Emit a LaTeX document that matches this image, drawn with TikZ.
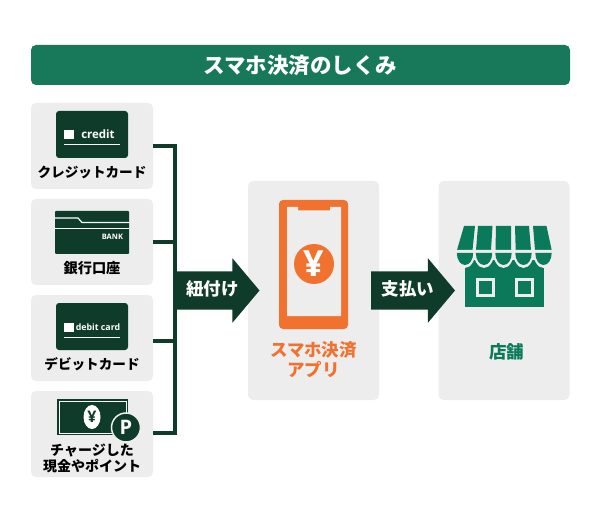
\documentclass[tikz,border=0pt]{standalone}
\usepackage{fontspec}
\usetikzlibrary{positioning, shapes.arrows, shapes.geometric}
\newfontfamily\cjk{Noto Sans CJK JP}
\newfontfamily\latin{Open Sans}
\definecolor{darkgreen}{HTML}{0F3B2A}
\definecolor{titlegreen}{HTML}{17785A}
\definecolor{shopgreen}{HTML}{0B7A5B}
\definecolor{apporange}{HTML}{F1712F}
\definecolor{panelgray}{HTML}{EDEDED}
\tikzset{
x=1pt, y=-1pt, % picture is in reference pixels
every node/.style={inner sep=0pt, outer sep=0pt, font=\cjk\bfseries},
panel/.style={fill=panelgray, rounded corners=5pt},
source/.style={panel, minimum width=122pt, minimum height=86pt},
caption/.style={font=\cjk\bfseries\fontsize{13.6}{16}\selectfont, align=center, text=black},
cardface/.style={fill=darkgreen, rounded corners=3pt, minimum width=72pt, minimum height=47pt},
flow/.style={single arrow, fill=darkgreen, text=white, anchor=tail,
  inner ysep=11pt, text height=13pt, text depth=3pt,
  minimum height=84pt, minimum width=64pt, single arrow head extend=13pt,
  single arrow head indent=0pt, single arrow tip angle=100,
  execute at begin node=\hspace*{6pt},
  font=\cjk\bfseries\fontsize{17.5}{20}\selectfont},
bus/.style={draw=darkgreen, line width=3.5pt},
}
\begin{document}
\begin{tikzpicture}
    \useasboundingbox (0,0) rectangle (600,513);
    % title
    \node[rounded corners=5pt, fill=titlegreen,
      minimum width=539pt, minimum height=40pt, text=white,
      font=\cjk\bfseries\fontsize{21.5}{24}\selectfont] (title) at (300.5,65) {スマホ決済のしくみ};
    % left column
    \node[source] (credit) at (92,146) {};
    \node[source, below=10pt of credit] (bank) {};
    \node[source, below=10pt of bank] (debit) {};
    \node[source, below=10pt of debit] (charge) {};
    \node[panel, minimum width=131pt, minimum height=219pt] (app) at (313.5,290.5) {};
    \node[panel, minimum width=131pt, minimum height=219pt] (shop) at (504,290.5) {};
    % connectors
    \coordinate (bustop) at (175,146);
    \coordinate (busbot) at (175,433);
    \draw[bus] (credit.east) -- (bustop) -- (busbot) -- (busbot -| charge.east);
    \draw[bus] (bank.east) -- (bank.east -| bustop);
    \draw[bus] ([yshift=-3pt]debit.east) -- ([yshift=-3pt]debit.east -| bustop);
    \node[flow] (link) at (175.5,290.5) {紐付け};
    \node[flow] (pay) at (371,290.5) {支払い};
    % credit card
    \node[cardface] (creditcard) at (92,134.5) {};
    \fill[white] (64,130) rectangle (74,139);
    \node[text=white, font=\latin\bfseries\fontsize{11.5}{12}\selectfont] (creditname) at (98,134) {credit};
    \draw[white, line width=1pt] (64,145) -- (120,145);
    \node[caption] (creditlabel) at (92,172.5) {クレジットカード};
    % bank book
    \fill[darkgreen, rounded corners=1pt] (55,211) rectangle (129,254);
    \draw[white, line width=1.2pt] (55,218) -- (78,218) -- (82,222.5) -- (129,222.5);
    \draw[white, line width=1.2pt] (55,228.5) -- (129,228.5);
    \node[text=white, font=\latin\bfseries\fontsize{7.5}{9}\selectfont, anchor=east] (bankname) at (123,237) {BANK};
    \node[caption, font=\cjk\bfseries\fontsize{14.2}{16}\selectfont] (banklabel) at (92,268.5) {銀行口座};
    % debit card
    \node[cardface] (debitcard) at (92,326.5) {};
    \fill[white] (64,323) rectangle (74,332);
    \node[text=white, font=\latin\bfseries\fontsize{8.8}{10}\selectfont] (debitname) at (98,327) {debit card};
    \draw[white, line width=1pt] (64,337) -- (120,337);
    \node[caption] (debitlabel) at (92,364.5) {デビットカード};
    % charged money
    \fill[darkgreen] (57,399) rectangle (128,435);
    \draw[white, line width=.6pt] (59,401) rectangle (126,433);
    \node[ellipse, fill=white, minimum width=17pt, minimum height=24pt] (bill) at (92,417) {};
    \node[text=darkgreen, font=\latin\bfseries\fontsize{16}{16}\selectfont] (billyen) at (bill) {¥};
    \node[circle, fill=darkgreen, draw=panelgray, line width=1.5pt, minimum size=29pt, text=white,
      font=\latin\bfseries\fontsize{20}{20}\selectfont] (point) at (126,427.5) {P};
    \node[caption, font=\cjk\bfseries\fontsize{14}{16}\selectfont] (chargelabel) at (92,458) {チャージした\\現金やポイント};
    % phone
    \fill[apporange, rounded corners=4pt] (279,200) rectangle (348,329);
    \fill[panelgray] (287,207) -- (298,207) -- (298,210.5) -- (330,210.5) -- (330,207) -- (341,207)
      -- (341,316) -- (287,316) -- cycle;
    \node[circle, fill=apporange, minimum size=40pt, text=white,
      font=\latin\bfseries\fontsize{36}{36}\selectfont] (coin) at (314,264) {¥};
    \node[caption, text=apporange, font=\cjk\bfseries\fontsize{17.5}{20}\selectfont] (applabel) at (313.5,360) {スマホ決済\\アプリ};
    % store
    \fill[shopgreen] (465,260) rectangle (544,307);
    \foreach \tl/\tr/\bl/\br in {464/475/457/472.5, 478/492.5/476/491, 496/511/495.5/511, 515/529/515.7/531, 533/546.5/535/551.7}{
      \fill[shopgreen] (\tl,226) -- (\tr,226) -- (\br,250) -- (\bl,250) -- cycle;
    }
    \foreach \cx in {465,484,503.5,523.5,543.5}{
      \fill[panelgray] (\cx+10.7,250) arc[start angle=0, end angle=180, x radius=10.7, y radius=18] -- cycle;
    }
    \foreach \cx in {465,484,503.5,523.5,543.5}{
      \fill[shopgreen] (\cx+8.2,253) arc[start angle=0, end angle=180, x radius=8.2, y radius=12] -- cycle;
    }
    \foreach \x in {476,515}{
      \draw[panelgray, line width=3.2pt] (\x+1.6,279.6) rectangle (\x+17.8,295.4);
    }
    \node[caption, text=shopgreen, font=\cjk\bfseries\fontsize{17.5}{20}\selectfont] (shoplabel) at (506.5,352) {店舗};
\end{tikzpicture}
\end{document}
